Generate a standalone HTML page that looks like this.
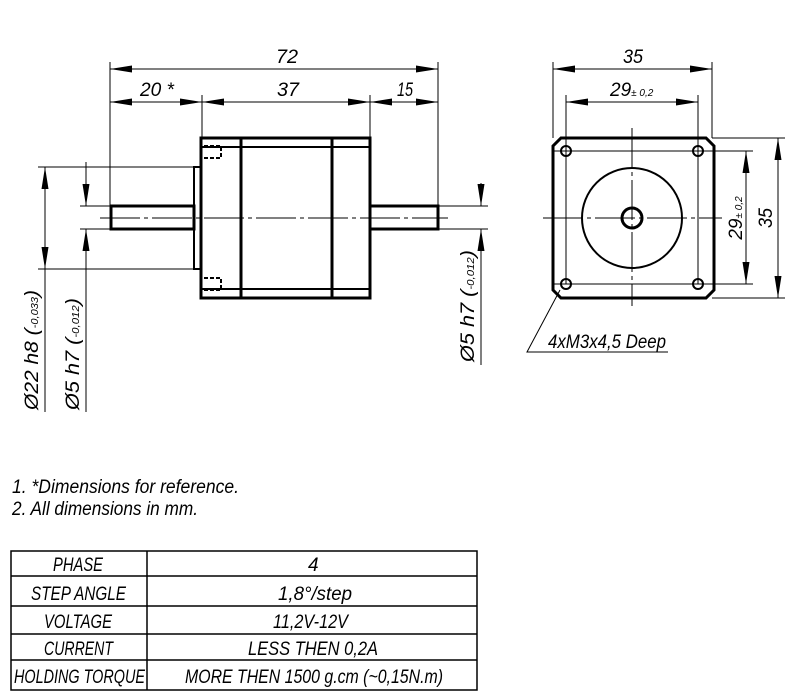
<!DOCTYPE html>
<html><head><meta charset="utf-8"><style>
html,body{margin:0;padding:0;background:#fff;}
svg{display:block;}
text{font-family:"Liberation Sans",sans-serif;font-style:italic;fill:#000;}
</style></head><body>
<svg width="791" height="700" viewBox="0 0 791 700" xmlns="http://www.w3.org/2000/svg">
<defs>
<marker id="a" viewBox="0 0 22 7" refX="22" refY="3.5" markerWidth="22" markerHeight="7" markerUnits="userSpaceOnUse" orient="auto-start-reverse"><path d="M0,0 L22,3.5 L0,7 z" fill="#000"/></marker>
</defs>
<g stroke="#000" fill="none" stroke-width="1">
<line x1="110" y1="62" x2="110" y2="206"/>
<line x1="438" y1="62" x2="438" y2="206"/>
<line x1="202" y1="95" x2="202" y2="138"/>
<line x1="370" y1="95" x2="370" y2="138"/>
<line x1="110" y1="69" x2="438" y2="69" marker-start="url(#a)" marker-end="url(#a)"/>
<line x1="110" y1="102" x2="202" y2="102" marker-start="url(#a)" marker-end="url(#a)"/>
<line x1="202" y1="102" x2="370" y2="102" marker-start="url(#a)" marker-end="url(#a)"/>
<line x1="370" y1="102" x2="438" y2="102" marker-start="url(#a)" marker-end="url(#a)"/>
<line x1="100" y1="218" x2="448" y2="218" stroke-dasharray="40,4,4,4"/>
<line x1="38" y1="167" x2="194" y2="167"/>
<line x1="38" y1="269" x2="194" y2="269"/>
<line x1="80" y1="206" x2="110" y2="206"/>
<line x1="80" y1="229" x2="110" y2="229"/>
<line x1="45" y1="167" x2="45" y2="269" marker-start="url(#a)" marker-end="url(#a)"/>
<line x1="45" y1="269" x2="45" y2="412"/>
<line x1="86" y1="162" x2="86" y2="206" marker-end="url(#a)"/>
<line x1="86" y1="252" x2="86" y2="229" marker-end="url(#a)"/>
<line x1="86" y1="252" x2="86" y2="412"/>
<line x1="438" y1="206" x2="488" y2="206"/>
<line x1="438" y1="229" x2="488" y2="229"/>
<line x1="481" y1="183" x2="481" y2="206" marker-end="url(#a)"/>
<line x1="481" y1="252" x2="481" y2="229" marker-end="url(#a)"/>
<line x1="481" y1="252" x2="481" y2="365"/>
</g>
<g stroke="#000" fill="none" stroke-width="3">
<rect x="201" y="138" width="169" height="160"/>
<line x1="241" y1="138" x2="241" y2="298"/>
<line x1="332" y1="138" x2="332" y2="298"/>
<rect x="111" y="206" width="83" height="23"/>
<rect x="370" y="206" width="68" height="23"/>
</g>
<g stroke="#000" fill="none" stroke-width="2">
<line x1="201" y1="147" x2="370" y2="147"/>
<line x1="201" y1="289" x2="370" y2="289"/>
<rect x="194" y="167" width="7" height="102"/>
<path d="M204,146 H221 V158 H204" stroke-dasharray="4,2"/>
<path d="M204,278 H221 V290 H204" stroke-dasharray="4,2"/>
</g>
<g stroke="#000" fill="none" stroke-width="1">
<line x1="553" y1="62" x2="553" y2="138"/>
<line x1="712" y1="62" x2="712" y2="138"/>
<line x1="566" y1="95" x2="566" y2="284"/>
<line x1="698" y1="95" x2="698" y2="284"/>
<line x1="553" y1="69" x2="712" y2="69" marker-start="url(#a)" marker-end="url(#a)"/>
<line x1="566" y1="102" x2="698" y2="102" marker-start="url(#a)" marker-end="url(#a)"/>
<line x1="553" y1="151" x2="753" y2="151"/>
<line x1="553" y1="284" x2="753" y2="284"/>
<line x1="712" y1="138" x2="785" y2="138"/>
<line x1="712" y1="298" x2="785" y2="298"/>
<line x1="746" y1="151" x2="746" y2="284" marker-start="url(#a)" marker-end="url(#a)"/>
<line x1="778" y1="138" x2="778" y2="298" marker-start="url(#a)" marker-end="url(#a)"/>
<line x1="543" y1="218" x2="722" y2="218" stroke-dasharray="40,4,4,4"/>
<line x1="632" y1="128" x2="632" y2="306" stroke-dasharray="40,4,4,4"/>
<path d="M560,290 L527,352 H668"/>
</g>
<g stroke="#000" fill="none" stroke-width="3">
<path d="M561,138 H706 L714,146 V290 L706,298 H561 L553,290 V146 Z"/>
<circle cx="632" cy="218" r="10"/>
</g>
<g stroke="#000" fill="none" stroke-width="2">
<circle cx="632" cy="218" r="50"/>
<circle cx="566" cy="151" r="5"/><circle cx="698" cy="151" r="5"/>
<circle cx="566" cy="284" r="5"/><circle cx="698" cy="284" r="5"/>
</g>
<g font-size="19">
<text x="276" y="63" textLength="22" lengthAdjust="spacingAndGlyphs">72</text>
<text x="140" y="96" textLength="34" lengthAdjust="spacingAndGlyphs">20 *</text>
<text x="277" y="96" textLength="22" lengthAdjust="spacingAndGlyphs">37</text>
<text x="397" y="96" textLength="16" lengthAdjust="spacingAndGlyphs">15</text>
<text x="623" y="63" textLength="20" lengthAdjust="spacingAndGlyphs">35</text>
<text x="610" y="96">29<tspan font-size="10">± 0,2</tspan></text>
<text transform="translate(742,218) rotate(-90)" text-anchor="middle">29<tspan font-size="10">± 0,2</tspan></text>
<text transform="translate(772,228) rotate(-90)" textLength="20" lengthAdjust="spacingAndGlyphs">35</text>
<text transform="translate(38,410) rotate(-90)" textLength="120" lengthAdjust="spacingAndGlyphs">Ø22 h8 (<tspan font-size="10">-0,033</tspan>)</text>
<text transform="translate(79,410) rotate(-90)" textLength="112" lengthAdjust="spacingAndGlyphs">Ø5 h7 (<tspan font-size="10">-0,012</tspan>)</text>
<text transform="translate(474,362) rotate(-90)" textLength="112" lengthAdjust="spacingAndGlyphs">Ø5 h7 (<tspan font-size="10">-0,012</tspan>)</text>
<text x="548" y="348" textLength="118" lengthAdjust="spacingAndGlyphs">4xM3x4,5 Deep</text>
<text x="12" y="493" textLength="227" lengthAdjust="spacingAndGlyphs">1. *Dimensions for reference.</text>
<text x="12" y="515" textLength="186" lengthAdjust="spacingAndGlyphs">2. All dimensions in mm.</text>
</g>
<g stroke="#000" fill="none" stroke-width="1.5">
<rect x="11" y="551" width="466" height="139"/>
<line x1="147" y1="551" x2="147" y2="690"/>
<line x1="11" y1="576" x2="477" y2="576"/>
<line x1="11" y1="606" x2="477" y2="606"/>
<line x1="11" y1="634" x2="477" y2="634"/>
<line x1="11" y1="660" x2="477" y2="660"/>
</g>
<g font-size="19">
<text x="53" y="571" textLength="50" lengthAdjust="spacingAndGlyphs">PHASE</text>
<text x="308" y="571">4</text>
<text x="31" y="600" textLength="95" lengthAdjust="spacingAndGlyphs">STEP ANGLE</text>
<text x="278" y="600" textLength="74" lengthAdjust="spacingAndGlyphs">1,8°/step</text>
<text x="44" y="628" textLength="68" lengthAdjust="spacingAndGlyphs">VOLTAGE</text>
<text x="273" y="628" textLength="75" lengthAdjust="spacingAndGlyphs">11,2V-12V</text>
<text x="44" y="655" textLength="69" lengthAdjust="spacingAndGlyphs">CURRENT</text>
<text x="248" y="655" textLength="130" lengthAdjust="spacingAndGlyphs">LESS THEN 0,2A</text>
<text x="14" y="683" textLength="131" lengthAdjust="spacingAndGlyphs">HOLDING TORQUE</text>
<text x="185" y="683" textLength="258" lengthAdjust="spacingAndGlyphs">MORE THEN 1500 g.cm (~0,15N.m)</text>
</g>
</svg>
</body></html>
